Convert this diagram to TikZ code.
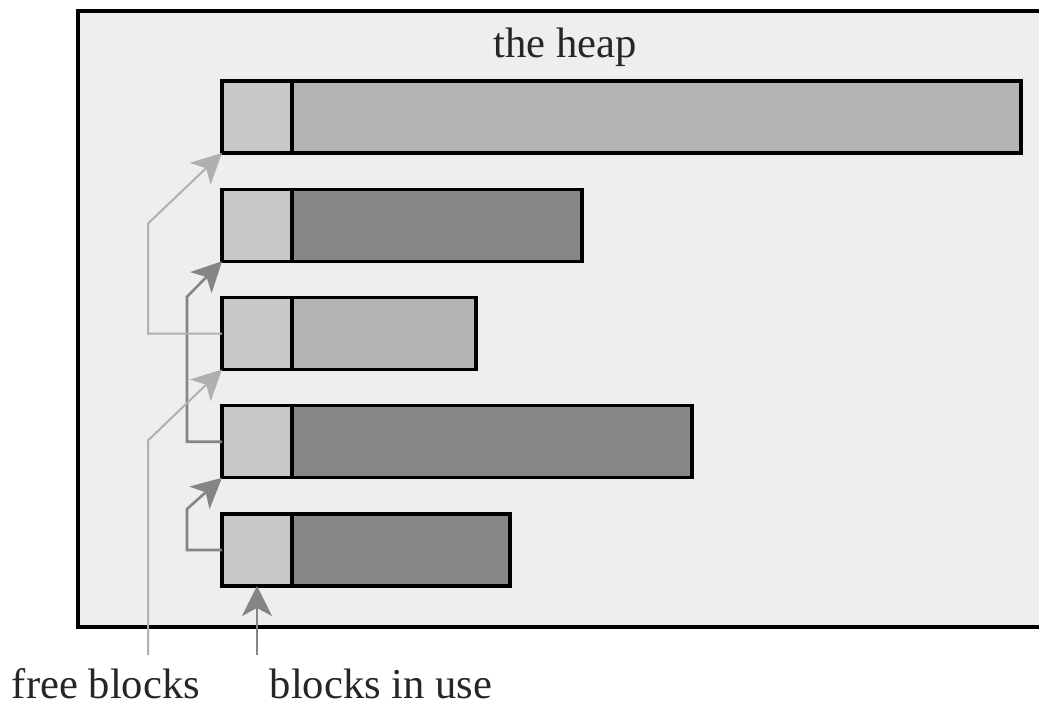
\documentclass[tikz,border=0pt]{standalone}
\usepackage{fontspec}
\setmainfont{Liberation Serif}
\newfontfamily\heapfont{Liberation Serif}
\usepackage{tikz}
\usepackage{xcolor}
\usetikzlibrary{arrows.meta,calc}

\definecolor{heapbg}{HTML}{EEEEEE}
\definecolor{hdrgray}{HTML}{C8C8C8}
\definecolor{freegray}{HTML}{B4B4B4}
\definecolor{usedgray}{HTML}{878787}
\definecolor{freeline}{HTML}{B0B0B0}
\definecolor{usedline}{HTML}{858585}

\tikzset{
  hdr/.style={draw, line width=1.7pt, fill=hdrgray, minimum width=35pt, minimum height=36pt, inner sep=0pt, outer sep=0pt},
  blk/.style={draw, line width=1.7pt, minimum height=36pt, inner sep=0pt, outer sep=0pt},
  freearr/.style={draw=freeline, line width=1pt, -{Stealth[length=15pt, width=15pt, inset=4pt, fill=freeline]}},
  usedarr/.style={draw=usedline, line width=1.3pt, -{Stealth[length=15pt, width=15pt, inset=4pt, fill=usedline]}},
  lbl/.style={font=\heapfont\fontsize{21.3}{25}\selectfont, text=black!85, inner sep=0pt}
}

\begin{document}
\begin{tikzpicture}[x=0.5pt, y=-0.5pt]
\useasboundingbox (0,0) rectangle (1039,707);
\clip (0,0) rectangle (1039,707);
% Marco del heap
\draw[line width=1.6pt, fill=heapbg] (78,11) rectangle (1060,627);
\node[lbl, anchor=base] (title) at (565,57) {the heap};
% Bloques
\foreach \i/\w/\c in {1/729/freegray, 2/290/usedgray, 3/184/freegray, 4/400/usedgray, 5/218/usedgray} {
  \node[hdr, anchor=west] (h\i) at (222, {117+108.25*(\i-1)}) {};
  \node[blk, fill=\c, anchor=west, minimum width=\w*0.5pt] (b\i) at (h\i.east) {};
}
% Etiquetas
\node[lbl, anchor=base] (fbl) at (106,698) {free blocks};
\node[lbl, anchor=base] (iul) at (381,698) {blocks in use};
\coordinate (fb) at (148,655);
\coordinate (iu) at (257,655);
% Lista de bloques en uso
\draw[usedarr] (iu) -- (h5.south);
\draw[usedarr] (h5.west) -- ++(-35,0) -- ++(0,-41) -- (h4.south west);
\draw[usedarr] (h4.west) -- ++(-35,0) -- ++(0,-145) -- (h2.south west);
% Lista libre
\draw[freearr] (fb) -- ($(h3.south west)+(-74,71)$) -- (h3.south west);
\draw[freearr] (h3.west) -- ++(-74,0) -- ++(0,-110) -- (h1.south west);
\end{tikzpicture}
\end{document}
